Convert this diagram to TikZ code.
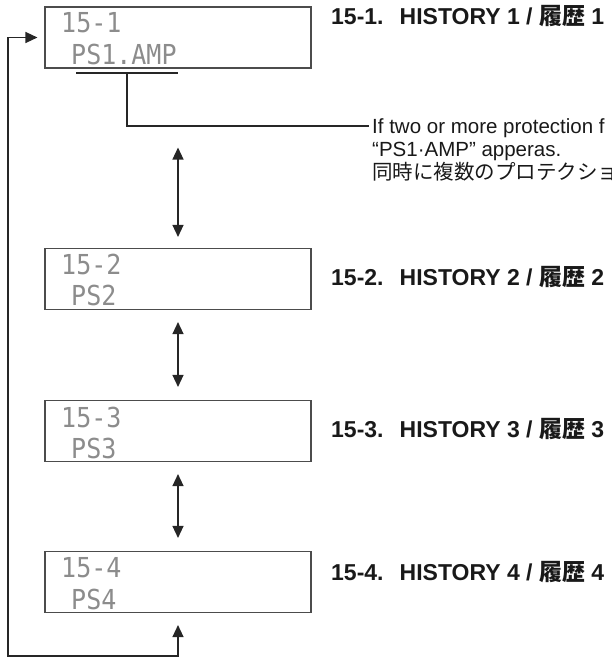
\documentclass[tikz,border=0pt]{standalone}
\usepackage{fontspec}
\usepackage{graphicx}
\setmainfont{Liberation Sans}
\newfontfamily\lcdfont{DejaVu Sans Mono}
\newfontfamily\cjk{Noto Sans CJK JP}
\usetikzlibrary{arrows.meta,calc}
\tikzset{
 lcdbox/.style={draw=black!70, line width=1.1pt, minimum width=266pt, minimum height=61pt, inner sep=0pt},
 lcdtext/.style={anchor=west, inner sep=0pt, text=black!45, font=\lcdfont\fontsize{25}{25}\selectfont},
 title/.style={anchor=base west, inner sep=0pt, font=\bfseries\fontsize{23}{27}\selectfont, text=black!90},
 note/.style={anchor=base west, inner sep=0pt, font=\fontsize{20.5}{23}\selectfont, text=black!90},
 tipend/.tip={Triangle[length=12pt,width=11pt]},
 link/.style={draw=black!85, line width=1.3pt, tipend-tipend},
 leader/.style={draw=black!85, line width=1.1pt},
}
\newcommand{\lcd}[1]{\scalebox{1}[1.1]{#1}}
\begin{document}
\begin{tikzpicture}[x=1pt,y=-1pt]
\useasboundingbox (0,0) rectangle (611,658);
% boxes
\node[lcdbox] (b1) at (178,37.5) {};
\node[lcdbox] (b2) at (178,279) {};
\node[lcdbox] (b3) at (178,431) {};
\node[lcdbox] (b4) at (178,582) {};
% LCD texts
\node[lcdtext] (r11) at (61,23) {\lcd{15-1}};
\node[lcdtext] (r12) at (71,54) {\lcd{PS1.AMP}};
\node[lcdtext] (r21) at (61,264) {\lcd{15-2}};
\node[lcdtext] (r22) at (71,295) {\lcd{PS2}};
\node[lcdtext] (r31) at (61,417) {\lcd{15-3}};
\node[lcdtext] (r32) at (71,448) {\lcd{PS3}};
\node[lcdtext] (r41) at (61,568) {\lcd{15-4}};
\node[lcdtext] (r42) at (71,599) {\lcd{PS4}};
% titles
\node[title] (t1) at (331,25) {15-1.\hspace{0.7em}HISTORY 1 / {\cjk 履歴} 1};
\node[title] (t2) at (331,285) {15-2.\hspace{0.7em}HISTORY 2 / {\cjk 履歴} 2};
\node[title] (t3) at (331,437) {15-3.\hspace{0.7em}HISTORY 3 / {\cjk 履歴} 3};
\node[title] (t4) at (331,580) {15-4.\hspace{0.7em}HISTORY 4 / {\cjk 履歴} 4};
% note
\node[note] (n1) at (372,133) {If two or more protection f};
\node[note] (n2) at (372,156) {“PS1·AMP” apperas.};
\node[note] (n3) at (372,179) {\cjk 同時に複数のプロテクショ};
% leader
\coordinate (u1) at (76,73);
\coordinate (u2) at (178,73);
\coordinate (uk) at (127,73);
\draw[leader] (u1) -- (u2);
\draw[leader] (uk) |- ($(n1.base west)+(-3,-7)$);
% arrows
\draw[link, shorten <=79pt, shorten >=11pt] (b1.south) -- (b2.north);
\draw[link, shorten <=12pt, shorten >=13pt] (b2.south) -- (b3.north);
\draw[link, shorten <=12pt, shorten >=13pt] (b3.south) -- (b4.north);
\coordinate (lp) at (8,656);
\draw[link, shorten <=12pt, shorten >=7pt] (b4.south) |- (lp) |- (b1.west);
\end{tikzpicture}
\end{document}
